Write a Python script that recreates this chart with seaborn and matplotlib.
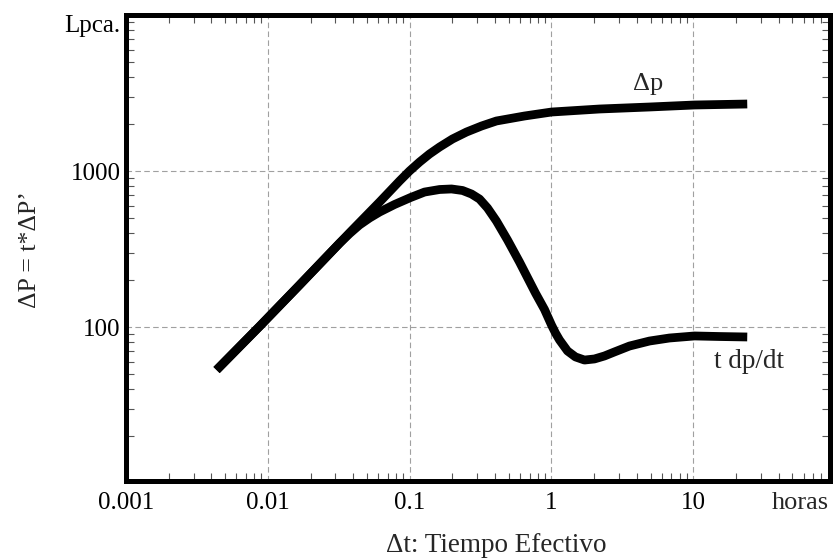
import numpy as np
import pandas as pd
import matplotlib
matplotlib.use("Agg")
import matplotlib.pyplot as plt
import matplotlib.ticker as mticker
import seaborn as sns

# values (log-log type curve)
t_dp = [0.00435, 0.00875, 0.01675, 0.0321, 0.0377, 0.0614, 0.0849, 0.0998, 0.1175, 0.138,
        0.1626, 0.2004, 0.2518, 0.3214, 0.409, 0.6457, 1.0, 2.18, 4.91, 10.2, 24.0]
dp = [53, 101, 186, 345, 402, 633, 863, 1000, 1142, 1285,
      1425, 1604, 1778, 1943, 2092, 2252, 2388, 2497, 2572, 2649, 2688]

t_der = [0.00435, 0.00875, 0.01675, 0.0321, 0.0377, 0.0443, 0.0522, 0.0614, 0.0783, 0.1015,
         0.1274, 0.1626, 0.1973, 0.236, 0.273, 0.311, 0.354, 0.409, 0.49, 0.595,
         0.771, 0.893, 1.0, 1.067, 1.139, 1.297, 1.476, 1.708, 2.01, 2.363, 2.78, 3.546,
         4.91, 6.785, 10.2, 15.28, 24.0]
der = [53, 101, 186, 345, 397, 451, 500, 546, 610, 676,
       733, 761, 767, 750, 712, 661, 579, 478, 361, 261,
       165, 129.5, 103, 91.5, 82.6, 70.2, 64.3, 61.4, 62.4, 65.2, 69.2, 75.5,
       81.3, 85.0, 87.6, 86.9, 86.3]

x_ticks = [0.001, 0.01, 0.1, 1, 10]
x_labels = ["0.001", "0.01", "0.1", "1", "10"]
y_ticks = [100, 1000, 10000]
y_labels = ["100", "1000", "Lpca."]

df_dp = pd.DataFrame({"t": t_dp, "p": dp})
df_der = pd.DataFrame({"t": t_der, "p": der})

sns.set_style("white")
plt.rcParams["font.family"] = ["Liberation Serif", "DejaVu Serif"]

fig = plt.figure(figsize=(8.33, 5.6), dpi=100)
ax = fig.add_axes([126 / 833, (560 - 481) / 560, (830 - 126) / 833, (481 - 15) / 560])
ax.set_xscale("log")
ax.set_yscale("log")

sns.lineplot(data=df_dp, x="t", y="p", ax=ax, color="black", linewidth=6.3,
             solid_capstyle="butt", solid_joinstyle="round")
sns.lineplot(data=df_der, x="t", y="p", ax=ax, color="black", linewidth=6.3,
             solid_capstyle="butt", solid_joinstyle="round")

ax.set_xlim(0.001, 92)
ax.set_ylim(10.3, 10000)

ax.set_xticks(x_ticks)
ax.set_xticklabels(x_labels)
ax.set_yticks(y_ticks)
ax.set_yticklabels(y_labels)
ax.xaxis.set_minor_locator(mticker.LogLocator(base=10, subs=np.arange(2, 10), numticks=20))
ax.yaxis.set_minor_locator(mticker.LogLocator(base=10, subs=np.arange(2, 10), numticks=20))
ax.xaxis.set_minor_formatter(mticker.NullFormatter())
ax.yaxis.set_minor_formatter(mticker.NullFormatter())

ax.tick_params(which="major", length=0, labelsize=18, colors="black")
ax.tick_params(axis="x", which="major", pad=8)
ax.tick_params(axis="y", which="major", pad=4)
ax.tick_params(which="minor", direction="in", length=6, width=0.8, color="#555555",
               top=True, right=True, bottom=True, left=True)
ax.get_yticklabels()[-1].set_va("top")

ax.grid(True, which="major", linestyle=(0, (5, 3)), linewidth=0.8, color="#a0a0a0")
for s in ax.spines.values():
    s.set_linewidth(3.6)
    s.set_color("black")

ax.annotate("horas", xy=(1, 0), xycoords="axes fraction",
            xytext=(-1, -8), textcoords="offset points", ha="right", va="top",
            fontsize=19)

ax.set_xlabel("Δt: Tiempo Efectivo", fontsize=19.5)
ax.set_ylabel("ΔP = t*ΔP’", fontsize=18.5)
ax.xaxis.set_label_coords((496 - 126) / 704, -(545 - 481) / 466)
ax.yaxis.set_label_coords(-(126 - 30) / 704, (481 - 250) / 466)
ax.xaxis.label.set_va("center")
ax.yaxis.label.set_va("center")

ax.text(4.8, 3630, "Δp", fontsize=19, ha="center", va="center")
ax.text(24.5, 60, "t dp/dt", fontsize=19.5, ha="center", va="center")

fig.savefig("out.png", dpi=100)
